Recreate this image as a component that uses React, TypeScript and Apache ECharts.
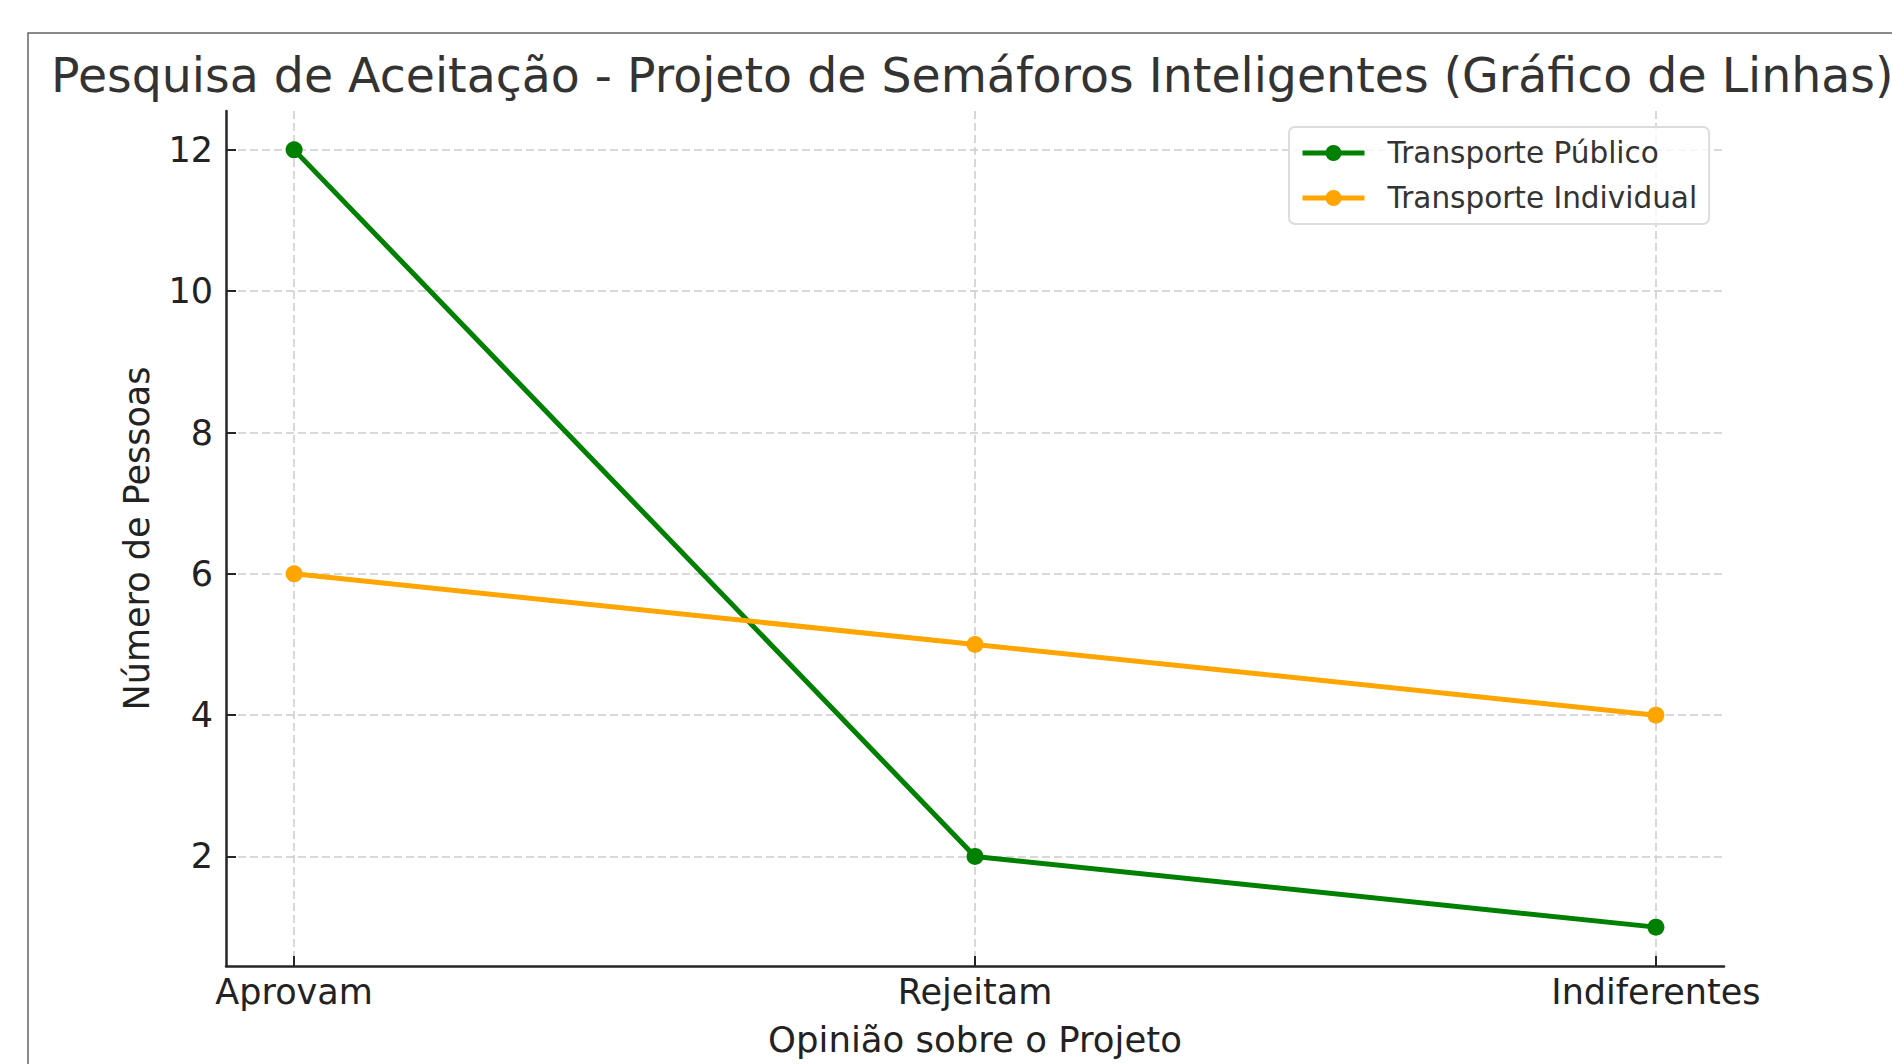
import React, { useEffect, useRef } from "react";
import * as echarts from "echarts";

const titleText = "Pesquisa de Aceitação - Projeto de Semáforos Inteligentes (Gráfico de Linhas)";
const categories = ["Aprovam", "Rejeitam", "Indiferentes"];
const publicTransport = [12, 2, 1];
const individualTransport = [6, 5, 4];
const yTicks = [2, 4, 6, 8, 10, 12];
const xTicks = [0, 1, 2];
const seriesNames = ["Transporte Público", "Transporte Individual"];
const xAxisTitle = "Opinião sobre o Projeto";
const yAxisTitle = "Número de Pessoas";

const FONT = "DejaVu Sans";

export default function App() {
  const ref = useRef<HTMLDivElement>(null);
  useEffect(() => {
    document.body.style.margin = "0";
    const chart = echarts.init(ref.current!, null, { renderer: "svg" });
    const gridLine = { show: true, lineStyle: { color: "#cccccc", width: 1.5, type: [8, 4] as any } };
    const mk = (vals: number[]) => vals.map((v, i) => [i, v]);
    chart.setOption({
      animation: false,
      backgroundColor: "#ffffff",
      title: {
        text: titleText,
        left: 51,
        top: 52,
        padding: 0,
        textStyle: { fontFamily: FONT, fontSize: 47.4, fontWeight: "normal", color: "#333333" },
      },
      graphic: [
        {
          type: "rect",
          shape: { x: 28, y: 33, width: 2000, height: 2000 },
          style: { fill: "none", stroke: "#666666", lineWidth: 1.5 },
          silent: true,
          z: -1,
        },
      ],
      legend: {
        left: 1289,
        top: 127,
        orient: "vertical",
        padding: [11, 12, 11, 11],
        itemWidth: 62,
        itemHeight: 20,
        itemGap: 15,
        backgroundColor: "rgba(255,255,255,0.8)",
        borderColor: "#dddddd",
        borderWidth: 2,
        borderRadius: 6,
        lineStyle: { width: 5 },
        textStyle: { fontFamily: FONT, fontSize: 29.5, color: "#333333", lineHeight: 30, padding: [0, 0, 0, 18] },
        data: seriesNames,
      },
      grid: { left: 226, right: 168, top: 111, bottom: 98, containLabel: false },
      xAxis: {
        type: "value",
        min: -0.1,
        max: 2.1,
        name: xAxisTitle,
        nameLocation: "middle",
        nameGap: 55,
        nameTextStyle: { fontFamily: FONT, fontSize: 35.5, color: "#222222" },
        axisLine: { show: true, onZero: false, lineStyle: { color: "#262626", width: 2.5 } },
        axisTick: { show: true, inside: true, length: 10, customValues: xTicks, lineStyle: { color: "#262626", width: 2 } },
        axisLabel: {
          customValues: xTicks,
          formatter: (v: number) => categories[Math.round(v)] ?? "",
          fontFamily: FONT,
          fontSize: 35,
          color: "#222222",
          margin: 8,
        },
        splitLine: gridLine,
      },
      yAxis: {
        type: "value",
        min: 0.45,
        max: 12.55,
        name: yAxisTitle,
        nameLocation: "middle",
        nameRotate: 90,
        nameGap: 72,
        nameTextStyle: { fontFamily: FONT, fontSize: 35, color: "#222222" },
        axisLine: { show: true, onZero: false, lineStyle: { color: "#262626", width: 2.5 } },
        axisTick: { show: true, inside: true, length: 10, customValues: yTicks, lineStyle: { color: "#262626", width: 2 } },
        axisLabel: {
          customValues: yTicks,
          fontFamily: FONT,
          fontSize: 35,
          color: "#222222",
          margin: 13,
        },
        splitLine: gridLine,
      },
      series: [
        {
          name: seriesNames[0],
          type: "line",
          data: mk(publicTransport),
          symbol: "circle",
          symbolSize: 17,
          lineStyle: { color: "#008000", width: 5 },
          itemStyle: { color: "#008000" },
        },
        {
          name: seriesNames[1],
          type: "line",
          data: mk(individualTransport),
          symbol: "circle",
          symbolSize: 17,
          lineStyle: { color: "#FFA500", width: 5 },
          itemStyle: { color: "#FFA500" },
        },
      ],
    });
    return () => chart.dispose();
  }, []);
  return <div ref={ref} style={{ width: 1892, height: 1064 }} />;
}
